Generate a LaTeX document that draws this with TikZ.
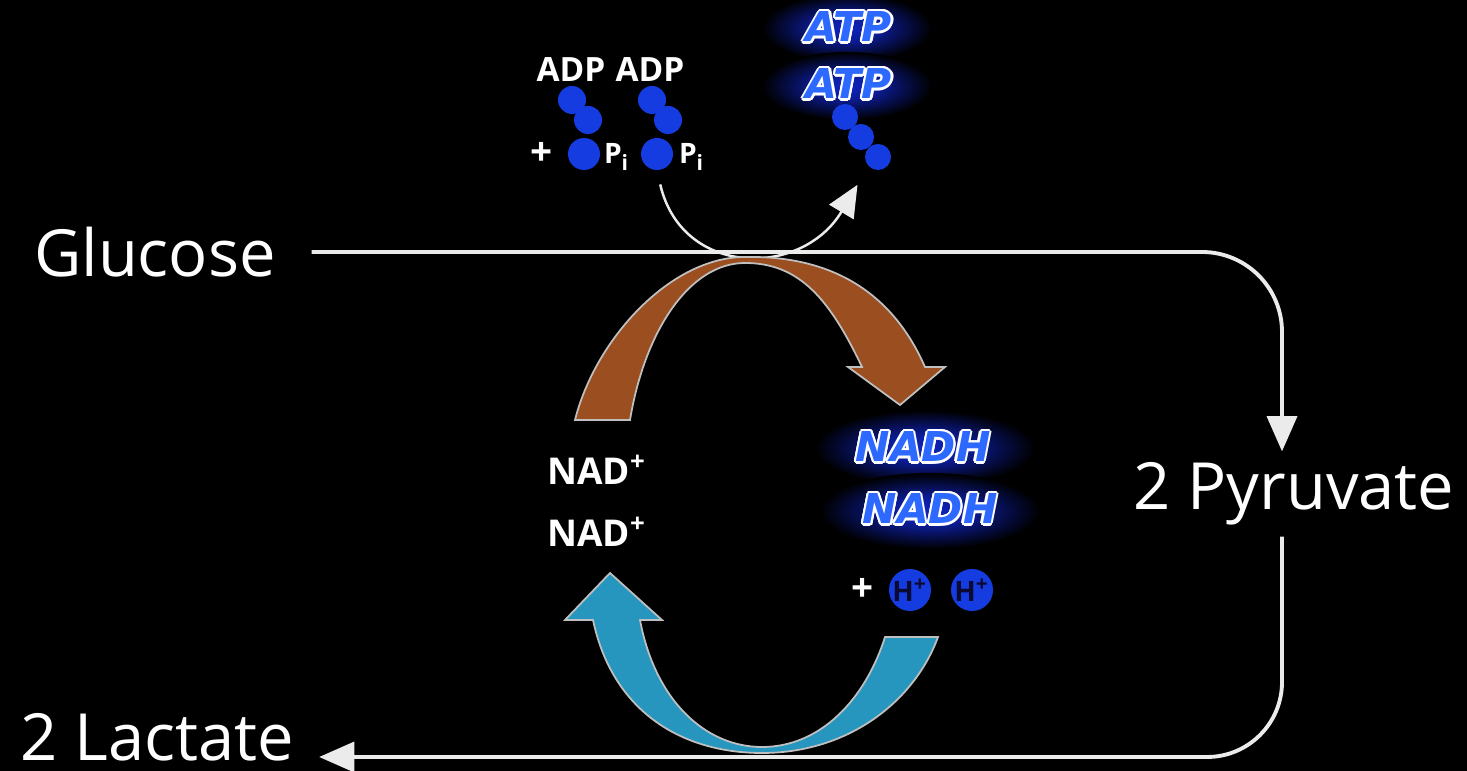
\documentclass[tikz,border=0pt]{standalone}
\usepackage{fontspec}
\setmainfont{Open Sans}
\newfontfamily\heavyfont{DejaVu Sans}
\usepackage{contour}
\contourlength{0.6pt}
\usepackage{tikz}
\usetikzlibrary{arrows.meta,calc}

\definecolor{molblue}{RGB}{20,60,225}
\definecolor{energyblue}{RGB}{45,105,255}
\definecolor{glowblue}{RGB}{15,35,190}
\definecolor{linegray}{RGB}{235,235,235}
\definecolor{nadbrown}{RGB}{155,78,32}
\definecolor{nadteal}{RGB}{38,150,190}
\definecolor{hplus}{RGB}{10,10,50}
\pgfdeclareradialshading{glow}{\pgfpointorigin}{color(0bp)=(glowblue); color(9bp)=(glowblue!80!black); color(18bp)=(glowblue!35!black); color(25bp)=(black); color(50bp)=(black)}

\begin{document}
\begin{tikzpicture}[x=0.01cm, y=-0.01cm,
    big/.style={text=white, font=\fontsize{18.5}{21}\selectfont, inner sep=3pt},
    small/.style={text=white, font=\fontsize{10}{12}\selectfont, inner sep=1pt},
    mol/.style={circle, fill=molblue, inner sep=0pt, minimum size=0.28cm},
    flow/.style={draw=linegray, line width=1.1pt, -{Triangle[length=10pt,width=8.5pt]}},
    band/.style={draw=white!75!black, line width=0.5pt},
    energy/.style={text=energyblue, inner sep=0pt,
      font=\heavyfont\fontsize{11.7}{13}\selectfont\bfseries\itshape}]
  % Background
  \fill[black] (0,0) rectangle (1467,771);
  \useasboundingbox (0,0) rectangle (1467,771);

  % Main pathway
  \node[big] (glucose) at (155,252) {Glucose};
  \node[big] (pyruvate) at (1294,494) {2 Pyruvate};
  \node[big, inner sep=1pt] (lactate) at (157,737) {2 Lactate};

  \draw[flow, rounded corners=0.8cm, shorten <=7pt] (glucose.east) -| ($(pyruvate.north)+(-12,0)$);
  \draw[flow, rounded corners=0.75cm, shorten >=6pt] ($(pyruvate.south)+(-12,0)$) |- ($(lactate.east)+(0,20)$);

  % ADP + Pi
  \node[small, font=\fontsize{9.5}{12}\selectfont\bfseries] (adp1) at (571,70) {ADP};
  \node[small, font=\fontsize{9.5}{12}\selectfont\bfseries] (adp2) at (650,70) {ADP};
  \node[mol] (a1) at (572,100) {};
  \node[mol] (a2) at (588,120) {};
  \node[mol, minimum size=0.32cm] (p1) at (584,154) {};
  \node[mol] (b1) at (652,100) {};
  \node[mol] (b2) at (668,120) {};
  \node[mol, minimum size=0.32cm] (p2) at (657,154) {};
  \node[small, font=\fontsize{11}{12}\selectfont\bfseries] (plus1) at (542,154) {+};
  \node[small, font=\fontsize{8}{10}\selectfont\bfseries] (pi1) at (617,157) {P\textsubscript{i}};
  \node[small, font=\fontsize{8}{10}\selectfont\bfseries] (pi2) at (692,157) {P\textsubscript{i}};

  % ATP
  \shade[shading=glow] (847,28) ellipse [x radius=0.85cm, y radius=0.34cm];
  \shade[shading=glow] (847,86) ellipse [x radius=0.85cm, y radius=0.34cm];
  \node[energy] (atp1) at (849,28) {\contour{white}{ATP}};
  \node[energy] (atp2) at (849,85) {\contour{white}{ATP}};
  \node[mol, minimum size=0.26cm] (c1) at (845,117) {};
  \node[mol, minimum size=0.26cm] (c2) at (861,137) {};
  \node[mol, minimum size=0.26cm] (c3) at (878,157) {};

  \draw[linegray, line width=0.7pt, -{Triangle[length=9pt,width=8pt]}, shorten <=4pt, shorten >=6pt]
    (p2.south) .. controls (682,278) and (802,278) .. (c3.south west);

  % NAD+ -> NADH
  \filldraw[band, fill=nadbrown]
    (575,420) .. controls (595,340) and (670,257) .. (745,257)
    .. controls (850,255) and (900,310) .. (925,367)
    -- (945,367) -- (900,405) -- (848,367) -- (862,367)
    .. controls (830,300) and (800,263) .. (745,263)
    .. controls (690,263) and (645,330) .. (630,420) -- cycle;

  \node[small, font=\fontsize{10.5}{12}\selectfont\bfseries] (nad1) at (597,470) {NAD\textsuperscript{+}};
  \node[small, font=\fontsize{10.5}{12}\selectfont\bfseries] (nad2) at (597,532) {NAD\textsuperscript{+}};

  \shade[shading=glow] (925,448) ellipse [x radius=1.1cm, y radius=0.38cm];
  \shade[shading=glow] (930,511) ellipse [x radius=1.1cm, y radius=0.38cm];
  \node[energy] (nadh1) at (923,448) {\contour{white}{NADH}};
  \node[energy] (nadh2) at (930,510) {\contour{white}{NADH}};

  \node[small, font=\fontsize{11}{12}\selectfont\bfseries] (plus2) at (863,590) {+};
  \node[mol, minimum size=0.42cm, text=hplus, font=\fontsize{8}{9}\selectfont\bfseries] (h1) at (910,590) {H\textsuperscript{+}};
  \node[mol, minimum size=0.42cm, text=hplus, font=\fontsize{8}{9}\selectfont\bfseries] (h2) at (972,590) {H\textsuperscript{+}};

  % NADH -> NAD+
  \filldraw[band, fill=nadteal]
    (938,637) .. controls (915,700) and (850,753) .. (762,753)
    .. controls (680,753) and (612,710) .. (593,620)
    -- (565,620) -- (610,573) -- (662,620) -- (640,620)
    .. controls (655,700) and (705,747) .. (762,747)
    .. controls (820,747) and (865,700) .. (885,637) -- cycle;
\end{tikzpicture}
\end{document}
